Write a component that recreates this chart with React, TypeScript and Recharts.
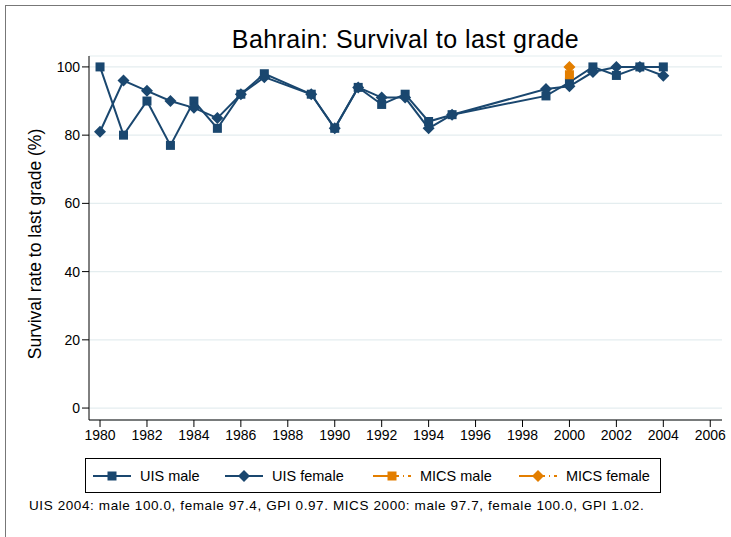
import { LineChart, Line, XAxis, YAxis, CartesianGrid } from 'recharts'

const uisYears = [1980, 1981, 1982, 1983, 1984, 1985, 1986, 1987, 1989, 1990, 1991, 1992, 1993, 1994, 1995, 1999, 2000, 2001, 2002, 2003, 2004]
const uisMale = [100, 80, 90, 77, 90, 82, 92, 98, 92, 82, 94, 89, 92, 84, 86, 91.5, 95.5, 100, 97.5, 100, 100]
const uisFemale = [81, 96, 93, 90, 88, 85, 92, 97, 92, 82, 94, 91, 91, 82, 86, 93.5, 94.3, 98.5, 100, 100, 97.4]
const micsYears = [2000]
const micsMale = [97.7]
const micsFemale = [100]

const xTicks = [1980, 1982, 1984, 1986, 1988, 1990, 1992, 1994, 1996, 1998, 2000, 2002, 2004, 2006]
const yTicks = [0, 20, 40, 60, 80, 100]

const NAVY = '#1a476f'
const ORANGE = '#e37e00'
const FONT = '"Liberation Sans", Arial, sans-serif'

const toRows = (years: number[], vals: number[]) => years.map((year, i) => ({ year, value: vals[i] }))

const uisMaleData = toRows(uisYears, uisMale)
const uisFemaleData = toRows(uisYears, uisFemale)
const micsMaleData = toRows(micsYears, micsMale)
const micsFemaleData = toRows(micsYears, micsFemale)

function squareDot(color: string) {
  return (p: any) => {
    if (p.cx == null || p.cy == null) return <g key={p.index} />
    return <rect key={p.index} x={p.cx - 4.5} y={p.cy - 4.5} width={9} height={9} fill={color} />
  }
}

function diamondDot(color: string) {
  return (p: any) => {
    if (p.cx == null || p.cy == null) return <g key={p.index} />
    const r = 6
    return (
      <polygon
        key={p.index}
        points={`${p.cx},${p.cy - r} ${p.cx + r},${p.cy} ${p.cx},${p.cy + r} ${p.cx - r},${p.cy}`}
        fill={color}
      />
    )
  }
}

function LegendSymbol({ color, shape, dashed }: { color: string; shape: 'square' | 'diamond'; dashed: boolean }) {
  return (
    <svg width={38} height={16} style={{ display: 'block' }}>
      {dashed ? (
        <>
          <line x1={0} y1={8} x2={16} y2={8} stroke={color} strokeWidth={2} />
          <line x1={22} y1={8} x2={38} y2={8} stroke={color} strokeWidth={2} strokeDasharray="4 4 1 4" />
        </>
      ) : (
        <line x1={0} y1={8} x2={38} y2={8} stroke={color} strokeWidth={2} />
      )}
      {shape === 'square' ? (
        <rect x={14.5} y={3.5} width={9} height={9} fill={color} />
      ) : (
        <polygon points="19,2 25,8 19,14 13,8" fill={color} />
      )}
    </svg>
  )
}

const legendItems = [
  { label: 'UIS male', color: NAVY, shape: 'square' as const, dashed: false, left: 93 },
  { label: 'UIS female', color: NAVY, shape: 'diamond' as const, dashed: false, left: 225 },
  { label: 'MICS male', color: ORANGE, shape: 'square' as const, dashed: true, left: 373 },
  { label: 'MICS female', color: ORANGE, shape: 'diamond' as const, dashed: true, left: 519 },
]

export default function App() {
  return (
    <div style={{ position: 'absolute', left: 0, top: 0, width: 731, height: 537, background: '#fff', fontFamily: FONT, overflow: 'hidden' }}>
      <div style={{ position: 'absolute', left: 5, top: 5, width: 726, height: 1, background: '#777' }} />
      <div style={{ position: 'absolute', left: 5, top: 5, width: 1, height: 532, background: '#777' }} />

      <div style={{ position: 'absolute', left: 89, width: 633, top: 25, textAlign: 'center', fontSize: 25, letterSpacing: 0.45, color: '#000', lineHeight: '28px' }}>
        Bahrain: Survival to last grade
      </div>

      <LineChart width={731} height={537} margin={{ top: 56, right: 9, bottom: 87, left: 0 }} style={{ position: 'absolute', left: 0, top: 0 }}>
        <CartesianGrid horizontal vertical={false} stroke="#e4edef" strokeWidth={1.2} />
        <XAxis
          type="number"
          dataKey="year"
          domain={[1979.53, 2006.5]}
          ticks={xTicks}
          allowDataOverflow
          height={30}
          tickSize={7}
          tickMargin={3}
          axisLine={{ stroke: '#000' }}
          tickLine={{ stroke: '#000' }}
          tick={{ fontSize: 14, fill: '#000', fontFamily: FONT }}
        />
        <YAxis
          type="number"
          domain={[-3.5, 103.2]}
          ticks={yTicks}
          allowDataOverflow
          width={89}
          tickSize={7}
          tickMargin={2}
          axisLine={{ stroke: '#000' }}
          tickLine={{ stroke: '#000' }}
          tick={{ fontSize: 14, fill: '#000', fontFamily: FONT }}
          label={{
            content: () => (
              <text x={41} y={244} transform="rotate(-90 41 244)" textAnchor="middle" fontSize={17.5} fill="#000" fontFamily={FONT}>
                Survival rate to last grade (%)
              </text>
            ),
          }}
        />
        <Line data={uisMaleData} dataKey="value" stroke={NAVY} strokeWidth={2} dot={squareDot(NAVY)} activeDot={false} isAnimationActive={false} />
        <Line data={uisFemaleData} dataKey="value" stroke={NAVY} strokeWidth={2} dot={diamondDot(NAVY)} activeDot={false} isAnimationActive={false} />
        <Line data={micsMaleData} dataKey="value" stroke={ORANGE} strokeWidth={2} strokeDasharray="4 4 1 4" dot={squareDot(ORANGE)} activeDot={false} isAnimationActive={false} />
        <Line data={micsFemaleData} dataKey="value" stroke={ORANGE} strokeWidth={2} strokeDasharray="4 4 1 4" dot={diamondDot(ORANGE)} activeDot={false} isAnimationActive={false} />
      </LineChart>

      <div style={{ position: 'absolute', left: 85, top: 458, width: 574, height: 33, border: '1px solid #000', boxSizing: 'content-box' }}>
        {legendItems.map((it) => (
          <div key={it.label} style={{ position: 'absolute', left: it.left - 86, top: 0, height: 33, display: 'flex', alignItems: 'center', gap: 9, fontSize: 14.5, color: '#000', whiteSpace: 'nowrap' }}>
            <LegendSymbol color={it.color} shape={it.shape} dashed={it.dashed} />
            <span>{it.label}</span>
          </div>
        ))}
      </div>

      <div style={{ position: 'absolute', left: 29, top: 498, fontSize: 13.5, letterSpacing: 0.6, color: '#000', whiteSpace: 'nowrap' }}>
        UIS 2004: male 100.0, female 97.4, GPI 0.97. MICS 2000: male 97.7, female 100.0, GPI 1.02.
      </div>
    </div>
  )
}
